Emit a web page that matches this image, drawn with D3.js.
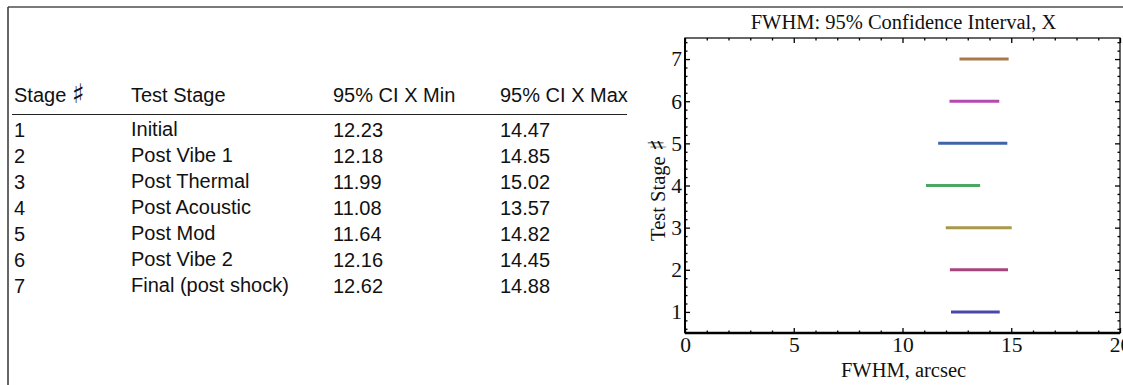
<!DOCTYPE html>
<html>
<head>
<meta charset="utf-8">
<script src="https://cdn.jsdelivr.net/npm/d3@7"></script>
<style>
  html, body { margin: 0; padding: 0; background: #fff; }
  svg { display: block; }
</style>
</head>
<body>
<svg id="page" width="1123" height="385"></svg>
<script>
// Stage results: 95% confidence interval of FWHM in X
const stageNums = [1, 2, 3, 4, 5, 6, 7];
const stageNames = ["Initial", "Post Vibe 1", "Post Thermal", "Post Acoustic", "Post Mod", "Post Vibe 2", "Final (post shock)"];
const ciMin = [12.23, 12.18, 11.99, 11.08, 11.64, 12.16, 12.62];
const ciMax = [14.47, 14.85, 15.02, 13.57, 14.82, 14.45, 14.88];
const tableHeaders = ["Stage", "Test Stage", "95% CI X Min", "95% CI X Max"];
const xMajorTicks = [0, 5, 10, 15, 20];
const yMajorTicks = [1, 2, 3, 4, 5, 6, 7];
const stageColors = ["#4848aa", "#a8447c", "#a8984c", "#4aa862", "#4164a8", "#b44ab0", "#a8784a"];

const svg = d3.select("#page");
const sans = "'Liberation Sans', Arial, Helvetica, sans-serif";
const serif = "'Liberation Serif', 'Times New Roman', serif";
const SHARP = "\u266F";

// page frame: top rule and left rule
svg.append("line").attr("x1", 8).attr("x2", 1123).attr("y1", 7).attr("y2", 7)
  .attr("stroke", "#7a7a7a").attr("stroke-width", 2);
svg.append("line").attr("x1", 8).attr("x2", 8).attr("y1", 7).attr("y2", 385)
  .attr("stroke", "#333").attr("stroke-width", 1.5);

// ---- table ----
const colX = [14, 131, 333, 500];
const headerY = 102;
const rowY0 = 137, rowStep = 26;
const table = svg.append("g").attr("font-family", sans).attr("font-size", 20).attr("fill", "#111");
table.selectAll("text.hdr").data(tableHeaders).join("text")
  .attr("class", "hdr")
  .attr("x", (d, i) => colX[i]).attr("y", headerY)
  .each(function (d, i) {
    const t = d3.select(this);
    t.append("tspan").text(d);
    if (i === 0) {
      t.append("tspan").text(" ");
      t.append("tspan").attr("font-family", "'DejaVu Sans'").attr("font-size", 27).attr("dy", 1).text(SHARP);
    }
  });
table.append("line").attr("x1", 12).attr("x2", 627).attr("y1", 114.5).attr("y2", 114.5)
  .attr("stroke", "#222").attr("stroke-width", 1);

const rows = stageNums.map((n, i) => [String(n), stageNames[i], ciMin[i].toFixed(2), ciMax[i].toFixed(2)]);
rows.forEach((r, ri) => {
  table.selectAll(null).data(r).join("text")
    .attr("x", (d, i) => colX[i])
    .attr("y", (d, i) => rowY0 + ri * rowStep - (i === 1 ? 1.5 : 0))
    .text(d => d);
});

// ---- chart ----
const plot = { left: 685, right: 1120, top: 38, bottom: 333 };
const x = d3.scaleLinear().domain([0, 20]).range([plot.left, plot.right]);
const y = d3.scaleLinear().domain([0.5, 7.5]).range([plot.bottom, plot.top]);

const chart = svg.append("g");

// interval marks
chart.selectAll("line.ci").data(stageNums).join("line")
  .attr("class", "ci")
  .attr("x1", (d, i) => x(ciMin[i])).attr("x2", (d, i) => x(ciMax[i]))
  .attr("y1", d => y(d)).attr("y2", d => y(d))
  .attr("stroke", (d, i) => stageColors[i]).attr("stroke-width", 3);

const minorX = d3.range(0, 20.001, 1).filter(v => v % 5 !== 0);
const minorY = d3.range(0.6, 7.45, 0.2).map(v => +v.toFixed(1)).filter(v => Math.abs(v - Math.round(v)) > 1e-6);

function styleAxis(g, labels) {
  g.select(".domain").remove();
  g.selectAll(".tick line").attr("stroke", "#000").attr("stroke-width", 1.3);
  g.selectAll(".tick text")
    .attr("font-family", serif).attr("font-size", 21.5).attr("fill", "#111");
  if (!labels) g.selectAll(".tick text").remove();
}

// bottom
chart.append("g").attr("transform", `translate(0,${plot.bottom})`)
  .call(d3.axisBottom(x).tickValues(xMajorTicks).tickSize(-5).tickPadding(4).tickFormat(d3.format("d")))
  .call(g => styleAxis(g, true));
chart.append("g").attr("transform", `translate(0,${plot.bottom})`)
  .call(d3.axisBottom(x).tickValues(minorX).tickSize(-2.5))
  .call(g => styleAxis(g, false));
// top
chart.append("g").attr("transform", `translate(0,${plot.top})`)
  .call(d3.axisTop(x).tickValues(xMajorTicks).tickSize(-5))
  .call(g => styleAxis(g, false));
chart.append("g").attr("transform", `translate(0,${plot.top})`)
  .call(d3.axisTop(x).tickValues(minorX).tickSize(-2.5))
  .call(g => styleAxis(g, false));
// left
chart.append("g").attr("transform", `translate(${plot.left},0)`)
  .call(d3.axisLeft(y).tickValues(yMajorTicks).tickSize(-5).tickPadding(3).tickFormat(d3.format("d")))
  .call(g => styleAxis(g, true));
chart.append("g").attr("transform", `translate(${plot.left},0)`)
  .call(d3.axisLeft(y).tickValues(minorY).tickSize(-2.5))
  .call(g => styleAxis(g, false));
// right
chart.append("g").attr("transform", `translate(${plot.right},0)`)
  .call(d3.axisRight(y).tickValues(yMajorTicks).tickSize(-5))
  .call(g => styleAxis(g, false));
chart.append("g").attr("transform", `translate(${plot.right},0)`)
  .call(d3.axisRight(y).tickValues(minorY).tickSize(-2.5))
  .call(g => styleAxis(g, false));

// frame
chart.append("rect")
  .attr("x", plot.left).attr("y", plot.top)
  .attr("width", plot.right - plot.left).attr("height", plot.bottom - plot.top)
  .attr("fill", "none").attr("stroke", "#000").attr("stroke-width", 1.2);
chart.append("line").attr("x1", plot.left).attr("x2", plot.right)
  .attr("y1", plot.bottom).attr("y2", plot.bottom).attr("stroke", "#000").attr("stroke-width", 2.5);
chart.append("line").attr("x1", plot.left).attr("x2", plot.left)
  .attr("y1", plot.top).attr("y2", plot.bottom).attr("stroke", "#000").attr("stroke-width", 2);

// titles
chart.append("text")
  .attr("x", (plot.left + plot.right) / 2 + 1).attr("y", 29)
  .attr("text-anchor", "middle").attr("font-family", serif).attr("font-size", 20.5).attr("fill", "#111")
  .text("FWHM: 95% Confidence Interval, X");
chart.append("text")
  .attr("x", (plot.left + plot.right) / 2 + 1).attr("y", 377)
  .attr("text-anchor", "middle").attr("font-family", serif).attr("font-size", 20.5).attr("fill", "#111")
  .text("FWHM, arcsec");
const yTitle = chart.append("text")
  .attr("transform", "translate(665,190) rotate(-90)")
  .attr("text-anchor", "middle").attr("font-family", serif).attr("font-size", 20.5).attr("fill", "#111");
yTitle.append("tspan").text("Test Stage ");
yTitle.append("tspan").attr("font-family", "'DejaVu Sans'").attr("font-size", 25).attr("dy", 1).text(SHARP);
</script>
</body>
</html>
